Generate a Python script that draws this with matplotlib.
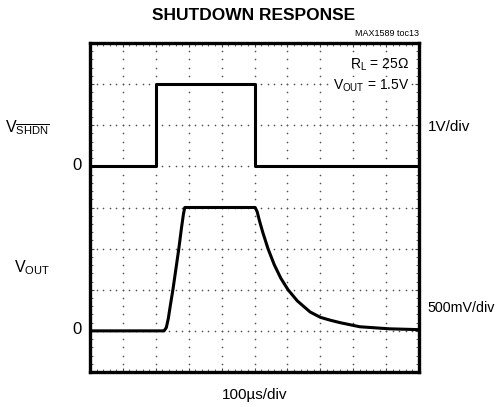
import numpy as np
import matplotlib
matplotlib.use("Agg")
import matplotlib.pyplot as plt

plt.rcParams['font.family'] = ['Liberation Sans', 'DejaVu Sans']
plt.rcParams['mathtext.fontset'] = 'custom'
plt.rcParams['mathtext.rm'] = 'Liberation Sans'
plt.rcParams['mathtext.it'] = 'Liberation Sans'

# time in us (100us/div), voltages in volts
shdn_t = [0, 200, 200, 500, 500, 1000]
shdn_v = [0, 0, 2.0, 2.0, 0, 0]

vout_t = [0, 225, 232, 238, 245, 252, 261, 270, 278, 284, 288,
          502, 508, 515, 525, 541, 560, 580, 602, 630, 669, 700,
          730, 760, 820, 910, 1000]
vout_v = [0, 0, 0.04, 0.15, 0.33, 0.5, 0.75, 1.0, 1.25, 1.42, 1.5,
          1.5, 1.45, 1.34, 1.2, 1.0, 0.805, 0.64, 0.5, 0.365, 0.23, 0.165,
          0.13, 0.1, 0.05, 0.025, 0.015]

# screen placement: divisions (10 x 8 grid)
shdn_zero, shdn_scale = 5, 1.0     # 1V/div
vout_zero, vout_scale = 1, 0.5     # 500mV/div

fig = plt.figure(figsize=(4.98, 4.07), dpi=100)
ax = fig.add_axes([90 / 498, 35 / 407, 329 / 498, 329 / 407])
ax.set_xlim(0, 10)
ax.set_ylim(0, 8)

# dotted graticule
minor_x = np.arange(0, 10.01, 0.2)
minor_y = np.arange(0, 8.01, 0.2)
for gx in range(1, 10):
    ax.plot(np.full_like(minor_y, gx), minor_y, ls='none', marker='o', ms=1.2,
            color='#555555', mec='none', zorder=1)
for gy in range(1, 8):
    ax.plot(minor_x, np.full_like(minor_x, gy), ls='none', marker='o', ms=1.2,
            color='#555555', mec='none', zorder=1)

ax.set_xticks(range(0, 11))
ax.set_yticks(range(0, 9))
ax.set_xticks(minor_x, minor=True)
ax.set_yticks(minor_y, minor=True)
ax.tick_params(which='both', direction='in', top=True, right=True,
               labelbottom=False, labelleft=False, color='#444444')
ax.tick_params(which='major', length=3, width=0.8)
ax.tick_params(which='minor', length=2, width=0.6)
for s in ax.spines.values():
    s.set_linewidth(2.4)

ax.plot(np.array(shdn_t) / 100, np.array(shdn_v) / shdn_scale + shdn_zero,
        color='black', lw=2.2, zorder=3)
ax.plot(np.array(vout_t) / 100, np.array(vout_v) / vout_scale + vout_zero,
        color='black', lw=2.2, zorder=3)

ax.text(9.7, 7.47, r'R$_\mathrm{L}$ = 25$\Omega$', ha='right', va='center',
        fontsize=10)
ax.text(9.7, 6.95, r'V$_\mathrm{OUT}$ = 1.5V', ha='right', va='center',
        fontsize=10, zorder=4,
        bbox=dict(facecolor='white', edgecolor='none', pad=1.0))

fig.text(254 / 498, 1 - 15 / 407, 'SHUTDOWN RESPONSE', ha='center', va='center',
         fontsize=12.5, fontweight='bold')
fig.text(419 / 498, 1 - 34 / 407, 'MAX1589 toc13', ha='right', va='center',
         fontsize=6.5)

fig.text(50 / 498, 1 - 128 / 407, r'V$_{\overline{\mathrm{SHDN}}}$', ha='right',
         va='center', fontsize=11.5)
fig.text(82 / 498, 1 - 166 / 407, '0', ha='right', va='center', fontsize=12)
fig.text(50 / 498, 1 - 268 / 407, r'V$_\mathrm{OUT}$', ha='right', va='center',
         fontsize=11.5)
fig.text(82 / 498, 1 - 330 / 407, '0', ha='right', va='center', fontsize=12)
fig.text(428 / 498, 1 - 127 / 407, '1V/div', ha='left', va='center', fontsize=11)
fig.text(427 / 498, 1 - 308 / 407, '500mV/div', ha='left', va='center',
         fontsize=10.3)
fig.text(255 / 498, 1 - 395 / 407, '100\u00b5s/div', ha='center', va='center',
         fontsize=11)

fig.savefig('out.png', dpi=100)
